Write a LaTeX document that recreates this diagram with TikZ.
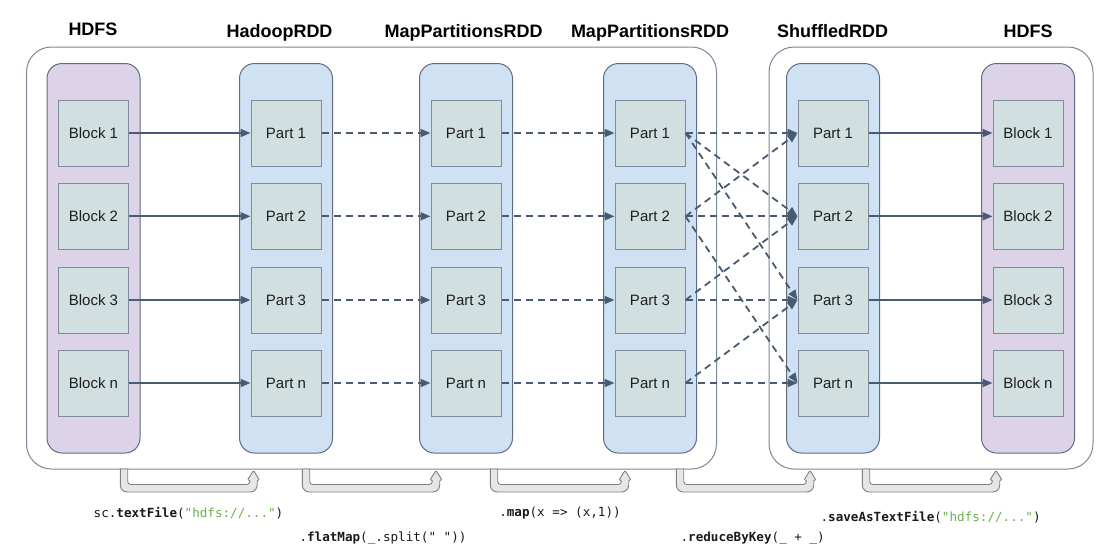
\documentclass[tikz,border=0pt]{standalone}
\usepackage{fontspec}
\setmainfont{Liberation Sans}
\setmonofont{DejaVu Sans Mono}
\usetikzlibrary{arrows.meta}
\definecolor{lanepurple}{HTML}{DDD3E8}
\definecolor{laneblue}{HTML}{CFE1F2}
\definecolor{boxfill}{HTML}{D1DFE1}
\definecolor{boxline}{HTML}{7D8B9C}
\definecolor{laneline}{HTML}{5E6D83}
\definecolor{contline}{HTML}{7C889A}
\definecolor{conn}{HTML}{4A5A72}
\definecolor{codegreen}{HTML}{6AAF4E}
\definecolor{hollowfill}{HTML}{E6E6E6}
\definecolor{hollowline}{HTML}{808080}
\tikzset{
 container/.style={draw=contline, line width=1pt, rounded corners=25pt, fill=white},
 lane/.style={draw=laneline, line width=1pt, rounded corners=15pt, minimum width=93pt, minimum height=389.5pt, inner sep=0pt},
 hdfslane/.style={lane, fill=lanepurple},
 rddlane/.style={lane, fill=laneblue},
 cell/.style={draw=boxline, fill=boxfill, line width=1pt, minimum width=70pt, minimum height=66pt, inner sep=0pt, font=\fontsize{15}{18}\selectfont, text=black!88},
 title/.style={font=\fontsize{18}{21}\selectfont\bfseries, anchor=base},
 solidconn/.style={draw=conn, line width=1.8pt, -{Triangle[length=10pt,width=8pt]}},
 dashconn/.style={solidconn, dash pattern=on 7pt off 5pt},
 code/.style={font=\fontsize{12.6}{15}\selectfont\ttfamily, text=black!90, inner sep=0pt},
 hollow/.style={draw=hollowline, fill=hollowfill, line width=0.9pt},
}
\newcommand\hollowarrow[2]{%
 \path[hollow] (#1-3.7,469) [rounded corners=7pt] -- (#1-3.7,492) -- (#2+3.7,492) [rounded corners=1pt] -- (#2+3.7,480) -- (#2+6,480) -- (#2,470.5) -- (#2-6,480) -- (#2-3.7,480) [rounded corners=3pt] -- (#2-3.7,484.5) -- (#1+3.7,484.5) [sharp corners] -- (#1+3.7,469) -- cycle;}
\begin{document}
\begin{tikzpicture}[x=1pt,y=-1pt]
\useasboundingbox (0,0) rectangle (1113,555);
% containers
\draw[container] (26.5,47) rectangle (716.5,469);
\draw[container] (769,47) rectangle (1093,469);
% lanes
\node[hdfslane] (L1) at (93.5,258.25) {};
\node[rddlane] (L2) at (286,258.25) {};
\node[rddlane] (L3) at (466,258.25) {};
\node[rddlane] (L4) at (650,258.25) {};
\node[rddlane] (L5) at (833,258.25) {};
\node[hdfslane] (L6) at (1028,258.25) {};
% titles
\node[title] (t1) at (93,35) {HDFS};
\node[title] (t2) at (279.5,37) {HadoopRDD};
\node[title] (t3) at (463.7,37) {MapPartitionsRDD};
\node[title] (t4) at (650,37) {MapPartitionsRDD};
\node[title] (t5) at (832.5,37) {ShuffledRDD};
\node[title] (t6) at (1028,37.5) {HDFS};
% cells
\foreach \r/\y/\lab in {1/133/1, 2/216.3/2, 3/300/3, 4/383/n} {
 \node[cell] (h\r) at (93.5,\y) {Block \lab};
 \node[cell] (a\r) at (286,\y) {Part \lab};
 \node[cell] (b\r) at (466,\y) {Part \lab};
 \node[cell] (c\r) at (650,\y) {Part \lab};
 \node[cell] (d\r) at (833,\y) {Part \lab};
 \node[cell] (e\r) at (1028,\y) {Block \lab};
}
% connectors
\foreach \r in {1,...,4} {
 \draw[solidconn] (h\r) -- (a\r);
 \draw[dashconn] (a\r) -- (b\r);
 \draw[dashconn] (b\r) -- (c\r);
 \draw[dashconn] (c\r) -- (d\r);
 \draw[solidconn] (d\r) -- (e\r);
}
\draw[dashconn] (c1.east) -- (d2.west);
\draw[dashconn] (c1.east) -- (d3.west);
\draw[dashconn] (c2.east) -- (d1.west);
\draw[dashconn] (c2.east) -- (d4.west);
\draw[dashconn] (c3.east) -- (d2.west);
\draw[dashconn] (c4.east) -- (d3.west);
% hollow transformation arrows
\hollowarrow{124}{253.5}
\hollowarrow{306}{436}
\hollowarrow{494}{625}
\hollowarrow{680}{810}
\hollowarrow{866}{996}
% code labels
\node[code] (l1) at (188.5,513) {sc.\textbf{textFile}(\textcolor{codegreen}{"hdfs://..."})};
\node[code] (l2) at (383,538) {.\textbf{flatMap}(\_.split(" "))};
\node[code] (l3) at (560,513) {.\textbf{map}(x => (x,1))};
\node[code] (l4) at (752.7,538) {.\textbf{reduceByKey}(\_ + \_)};
\node[code] (l5) at (930.6,517) {.\textbf{saveAsTextFile}(\textcolor{codegreen}{"hdfs://..."})};
\end{tikzpicture}
\end{document}
